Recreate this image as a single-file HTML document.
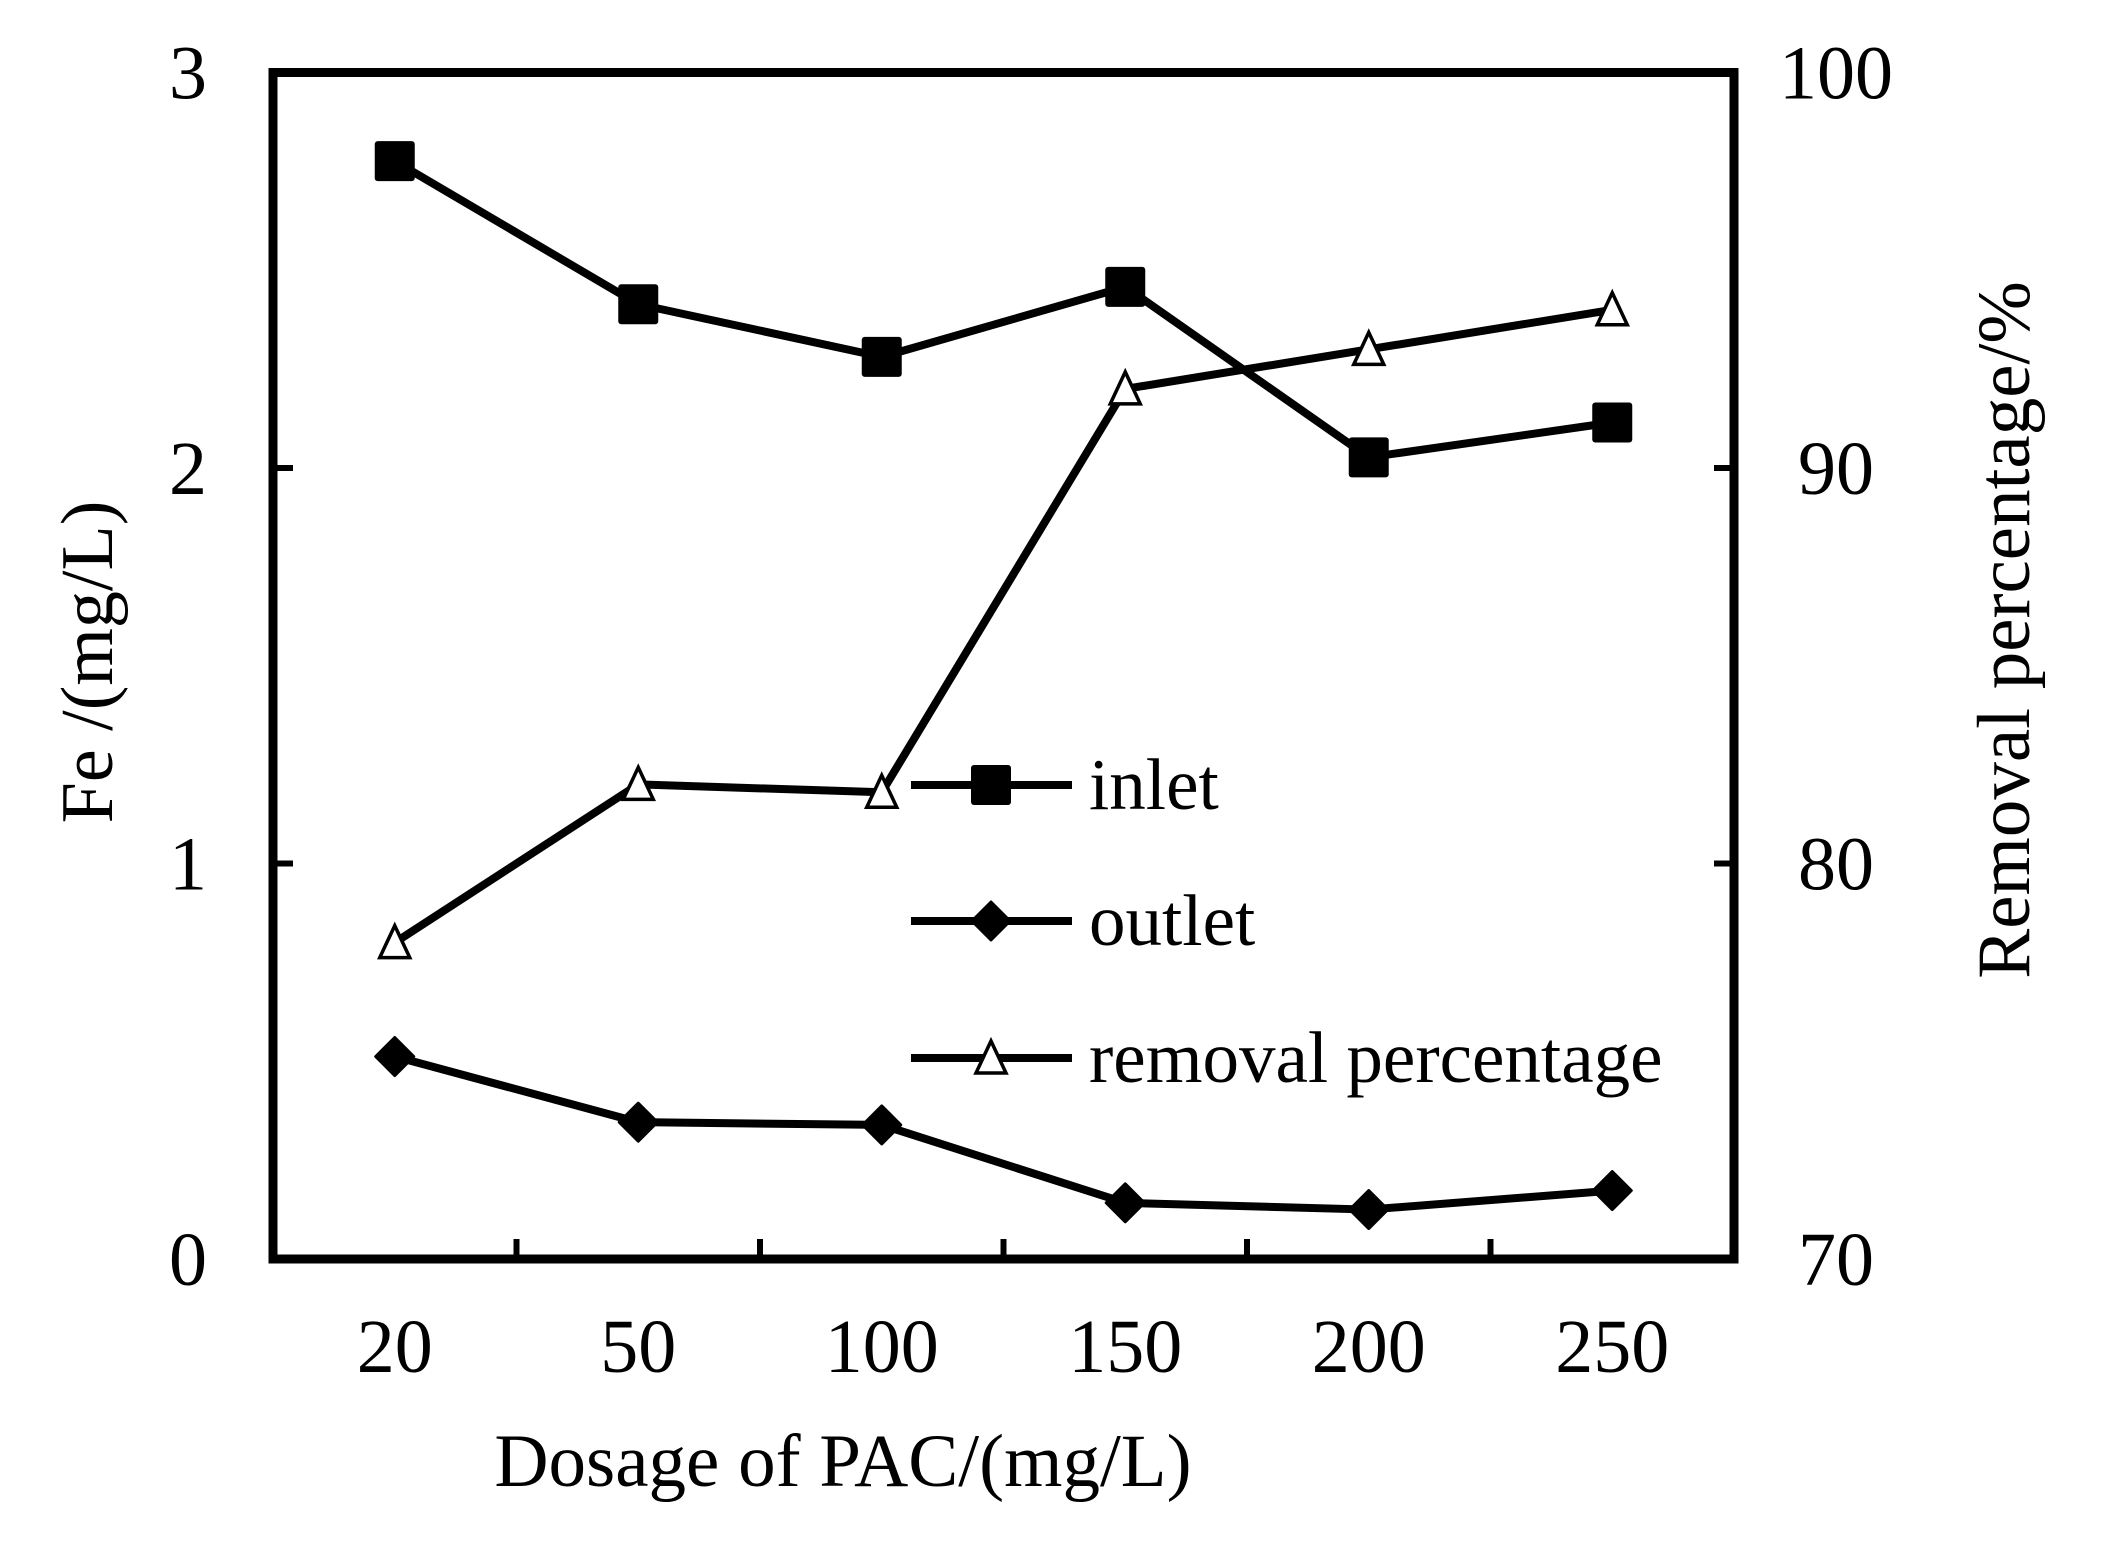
<!DOCTYPE html>
<html><head><meta charset="utf-8"><style>
html,body{margin:0;padding:0;background:#fff;}
svg{display:block;font-family:"Liberation Serif",serif;}
</style></head><body>
<svg id="chart" width="2102" height="1560" viewBox="0 0 2102 1560">
<g id="axes"></g>
<g id="series"></g>
<g id="legend"></g>
</svg>
<script>
const categories = ["20","50","100","150","200","250"];
const inletValues = [2.776, 2.414, 2.281, 2.458, 2.027, 2.115];
const outletValues = [0.512, 0.346, 0.339, 0.142, 0.125, 0.173];
const removalValues = [78.0, 82.0, 81.8, 92.0, 93.0, 94.0];
const leftTicks = [0, 1, 2, 3];
const rightTicks = [70, 80, 90, 100];

const NS = "http://www.w3.org/2000/svg";
const L = 273, R = 1734, T = 72.5, B = 1259;
const xPos = i => L + (i + 0.5) * (R - L) / categories.length;
const yLeft = v => B - (v - 0) / 3 * (B - T);
const yRight = v => B - (v - 70) / 30 * (B - T);

function mk(tag, attrs, parent) {
  const e = document.createElementNS(NS, tag);
  for (const k in attrs) e.setAttribute(k, attrs[k]);
  parent.appendChild(e);
  return e;
}
const axes = document.getElementById("axes");
const series = document.getElementById("series");
const legend = document.getElementById("legend");

const frame = mk("rect", {x: L, y: T, width: R - L, height: B - T, fill: "none", stroke: "#000", "stroke-width": 9}, axes);



for (let i = 1; i < categories.length; i++) {
  const x = L + i * (R - L) / categories.length;
  const t = mk("line", {x1: x, x2: x, y1: B, y2: B - 20, stroke: "#000", "stroke-width": 6}, axes);
  
  
}
categories.forEach((c, i) => {
  const t = mk("text", {x: xPos(i), y: 1372, "text-anchor": "middle", "font-size": 76}, axes);
  t.textContent = c;
  
  
});
leftTicks.forEach(v => {
  const y = yLeft(v);
  if (v > 0 && v < 3) {
    const t = mk("line", {x1: L, x2: L + 20, y1: y, y2: y, stroke: "#000", "stroke-width": 6}, axes);
    
    
  }
  const lb = mk("text", {x: 188, y: y + 26, "text-anchor": "middle", "font-size": 76}, axes);
  lb.textContent = v;
  
  
});
rightTicks.forEach(v => {
  const y = yRight(v);
  if (v > 70 && v < 100) {
    const t = mk("line", {x1: R - 20, x2: R, y1: y, y2: y, stroke: "#000", "stroke-width": 6}, axes);
    
    
  }
  const lb = mk("text", {x: 1836, y: y + 26, "text-anchor": "middle", "font-size": 76}, axes);
  lb.textContent = v;
  
  
});
const xt = mk("text", {x: 843, y: 1486, "text-anchor": "middle", "font-size": 75}, axes);
xt.textContent = "Dosage of PAC/(mg/L)";


const yt = mk("text", {x: 0, y: 0, "text-anchor": "middle", "font-size": 74, transform: "translate(112,662) rotate(-90)"}, axes);
yt.textContent = "Fe /(mg/L)";


const rt = mk("text", {x: 0, y: 0, "text-anchor": "middle", "font-size": 75, transform: "translate(2029,630) rotate(-90)"}, axes);
rt.textContent = "Removal percentage/%";



function marker(type, x, y, parent) {
  let e;
  if (type === "square") e = mk("rect", {x: x - 20, y: y - 20, width: 40, height: 40, rx: 3, fill: "#000"}, parent);
  else if (type === "diamond") e = mk("polygon", {points: `${x},${y-19} ${x+19},${y} ${x},${y+19} ${x-19},${y}`, fill: "#000", "stroke-linejoin": "round", stroke: "#000", "stroke-width": 3}, parent);
  else e = mk("polygon", {points: `${x},${y-17} ${x+15},${y+15} ${x-15},${y+15}`, fill: "#fff", stroke: "#000", "stroke-width": 3.5}, parent);
  return e;
}
function drawSeries(vals, yf, type, name) {
  const g = mk("g", {}, series);
  
  
  const pts = vals.map((v, i) => `${xPos(i)},${yf(v)}`).join(" ");
  const pl = mk("polyline", {points: pts, fill: "none", stroke: "#000", "stroke-width": 8, "stroke-linejoin": "round"}, g);
  
  
  vals.forEach((v, i) => {
    const m = marker(type, xPos(i), yf(v), g);
    
    
  });
}
drawSeries(removalValues, yRight, "triangle", "removal");
drawSeries(inletValues, yLeft, "square", "inlet");
drawSeries(outletValues, yLeft, "diamond", "outlet");

[["inlet", "square", 785], ["outlet", "diamond", 921], ["removal percentage", "triangle", 1058]].forEach(([lab, type, y]) => {
  const g = mk("g", {}, legend);
  
  
  mk("line", {x1: 911, x2: 1072, y1: y, y2: y, stroke: "#000", "stroke-width": 8}, g);
  marker(type, 991, y, g);
  const t = mk("text", {x: 1089, y: y + 24, "font-size": 73}, g);
  t.textContent = lab;
});
</script>
</body></html>
